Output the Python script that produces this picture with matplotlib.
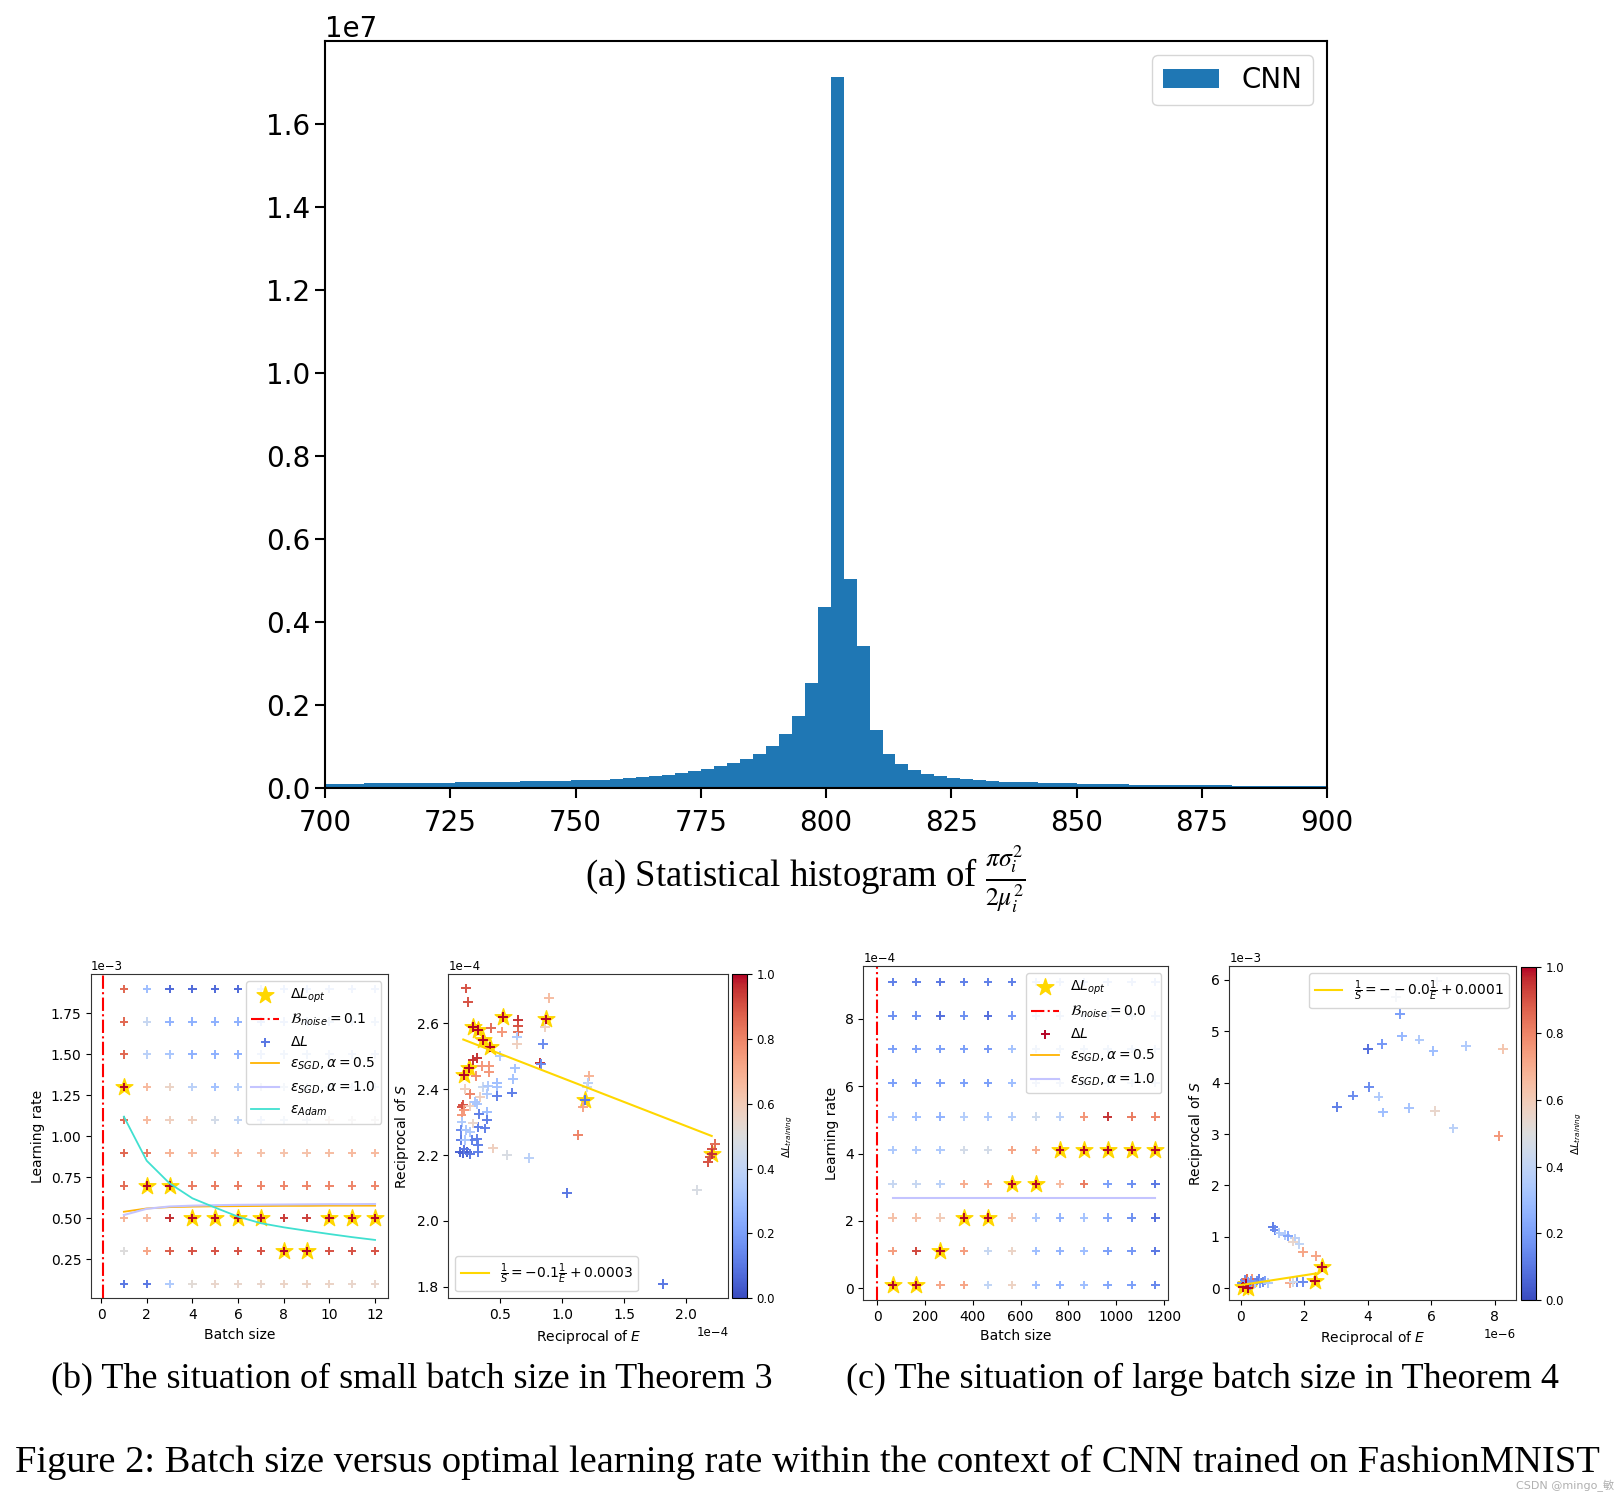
import matplotlib
matplotlib.use('Agg')
import matplotlib.pyplot as plt
import numpy as np

W, H = 1618, 1492

# (a) histogram of pi*sigma^2/(2*mu^2) -- bar heights in units of 1e7
hist_start = 700.04
hist_binw = 2.587
hist_counts = [0.0110, 0.0113, 0.0116, 0.0119, 0.0122, 0.0125, 0.0129, 0.0133, 0.0137, 0.0141,
               0.0145, 0.0150, 0.0155, 0.0160, 0.0165, 0.0170, 0.0176, 0.0182, 0.0189, 0.0196,
               0.0204, 0.0214, 0.0228, 0.0247, 0.0270, 0.0300,
               0.033, 0.037, 0.0417, 0.0465, 0.053, 0.061, 0.070, 0.083, 0.102, 0.130,
               0.174, 0.253, 0.437,
               1.714, 0.505, 0.343, 0.140, 0.084, 0.0585, 0.0445, 0.035, 0.030, 0.0255,
               0.0225, 0.020, 0.018, 0.0165, 0.0153, 0.0143, 0.0134, 0.0126, 0.0119, 0.0113,
               0.0107, 0.0102, 0.0097, 0.0093, 0.0089, 0.0085, 0.0082, 0.0079, 0.0076, 0.0073,
               0.0071, 0.0069, 0.0067, 0.0065, 0.0063, 0.0061, 0.0060, 0.0058, 0.0057]

# (b) small batch size, learning rate in 1e-3
b_batch = [1, 2, 3, 4, 5, 6, 7, 8, 9, 10, 11, 12]
b_lr = [0.1, 0.3, 0.5, 0.7, 0.9, 1.1, 1.3, 1.5, 1.7, 1.9]
b_dl = [  # rows: lr from bottom, cols: batch size
    [0.10, 0.10, 0.35, 0.52, 0.55, 0.55, 0.55, 0.56, 0.56, 0.56, 0.55, 0.55],
    [0.50, 0.72, 0.88, 0.90, 0.90, 0.90, 0.90, 1.00, 1.00, 0.90, 0.90, 0.90],
    [0.68, 0.66, 0.96, 1.00, 1.00, 1.00, 1.00, 0.94, 0.93, 1.00, 1.00, 1.00],
    [0.85, 1.00, 1.00, 0.82, 0.82, 0.82, 0.80, 0.80, 0.80, 0.80, 0.80, 0.80],
    [0.86, 0.82, 0.68, 0.66, 0.66, 0.66, 0.63, 0.63, 0.63, 0.65, 0.66, 0.66],
    [0.86, 0.66, 0.58, 0.58, 0.46, 0.40, 0.42, 0.44, 0.46, 0.55, 0.50, 0.50],
    [1.00, 0.66, 0.56, 0.38, 0.31, 0.36, 0.45, 0.44, 0.44, 0.44, 0.44, 0.44],
    [0.86, 0.38, 0.33, 0.25, 0.25, 0.25, 0.38, 0.40, 0.40, 0.42, 0.42, 0.42],
    [0.86, 0.42, 0.26, 0.25, 0.25, 0.25, 0.35, 0.38, 0.38, 0.40, 0.40, 0.40],
    [0.86, 0.30, 0.07, 0.07, 0.07, 0.07, 0.35, 0.36, 0.36, 0.38, 0.38, 0.38],
]
b_opt_batch = [1, 2, 3, 4, 5, 6, 7, 10, 11, 12, 8, 9]
b_opt_lr = [1.3, 0.7, 0.7, 0.5, 0.5, 0.5, 0.5, 0.5, 0.5, 0.5, 0.3, 0.3]
b_noise = 0.1
b_sgd05 = [0.540, 0.560, 0.568, 0.571, 0.573, 0.574, 0.575, 0.576, 0.576, 0.577, 0.577, 0.577]
b_sgd10 = [0.520, 0.558, 0.572, 0.577, 0.580, 0.582, 0.583, 0.584, 0.585, 0.586, 0.586, 0.587]
b_adam = [1.120, 0.851, 0.713, 0.622, 0.565, 0.510, 0.470, 0.445, 0.424, 0.404, 0.385, 0.368]

# (b) right: 1/E in 1e-4, 1/S in 1e-4
br_x = [0.226, 0.245, 0.898, 0.648, 0.648, 0.642, 0.430, 0.513, 0.634, 0.634,
        0.863, 0.849, 0.823, 0.828, 0.500, 0.285, 0.317, 0.352, 0.411, 0.411,
        0.306, 0.621, 0.608, 0.600, 0.478, 0.478, 0.478, 0.366, 0.406, 0.392,
        0.339, 0.258, 0.218, 0.190, 0.204, 0.210, 0.190, 0.258, 0.298, 0.317,
        0.333, 0.392, 0.392, 0.325, 0.379, 0.190, 0.185, 0.226, 0.258, 0.285,
        0.312, 0.272, 0.185, 0.218, 0.325, 0.177, 0.204, 0.231, 0.258, 0.210,
        0.325, 0.446, 0.554, 0.737, 1.043, 1.132, 1.172, 1.220, 1.212, 1.199,
        2.091, 1.812, 2.234, 2.207, 2.180, 2.194, 0.527, 0.871, 0.285, 0.325,
        0.366, 0.419, 0.210, 0.250, 1.186, 2.207]
br_y = [2.706, 2.666, 2.676, 2.610, 2.592, 2.575, 2.587, 2.575, 2.560, 2.536,
        2.590, 2.537, 2.480, 2.476, 2.500, 2.490, 2.494, 2.471, 2.470, 2.453,
        2.440, 2.463, 2.430, 2.390, 2.420, 2.407, 2.380, 2.408, 2.410, 2.385,
        2.377, 2.385, 2.400, 2.347, 2.352, 2.337, 2.321, 2.349, 2.362, 2.355,
        2.326, 2.331, 2.308, 2.286, 2.281, 2.301, 2.276, 2.276, 2.271, 2.296,
        2.250, 2.247, 2.247, 2.245, 2.230, 2.210, 2.205, 2.210, 2.203, 2.217,
        2.210, 2.220, 2.200, 2.192, 2.085, 2.260, 2.347, 2.440, 2.418, 2.408,
        2.093, 1.808, 2.235, 2.217, 2.180, 2.195, 2.620, 2.612, 2.590, 2.580,
        2.549, 2.529, 2.443, 2.463, 2.367, 2.203]
br_c = [0.90, 0.90, 0.65, 0.95, 0.90, 0.85, 0.85, 0.75, 0.35, 0.58,
        0.58, 0.15, 0.95, 0.15, 0.35, 0.95, 0.95, 0.75, 0.75, 0.75,
        0.78, 0.32, 0.32, 0.12, 0.30, 0.32, 0.12, 0.42, 0.35, 0.35,
        0.58, 0.80, 0.58, 0.90, 0.90, 0.75, 0.75, 0.58, 0.33, 0.33,
        0.12, 0.30, 0.12, 0.12, 0.12, 0.35, 0.15, 0.33, 0.35, 0.55,
        0.12, 0.12, 0.12, 0.33, 0.12, 0.05, 0.05, 0.05, 0.10, 0.10,
        0.12, 0.58, 0.48, 0.38, 0.10, 0.80, 0.72, 0.68, 0.38, 0.45,
        0.48, 0.10, 0.85, 0.90, 0.90, 0.90, 1.00, 1.00, 1.00, 1.00,
        1.00, 1.00, 1.00, 1.00, 0.10, 0.95]
br_opt_x = [0.527, 0.871, 0.285, 0.325, 0.366, 0.419, 0.210, 0.250, 1.186, 2.207]
br_opt_y = [2.620, 2.612, 2.590, 2.580, 2.549, 2.529, 2.443, 2.463, 2.367, 2.203]
br_fit_x = [0.204, 2.207]
br_fit_y = [2.551, 2.258]

# (c) large batch size, learning rate in 1e-4
c_batch = [64, 164, 264, 364, 464, 564, 664, 764, 864, 964, 1064, 1164]
c_lr = [0.1, 1.1, 2.1, 3.1, 4.1, 5.1, 6.1, 7.1, 8.1, 9.1]
c_dl = [
    [1.00, 1.00, 0.72, 0.72, 0.40, 0.57, 0.30, 0.25, 0.30, 0.22, 0.20, 0.14],
    [0.74, 0.92, 1.00, 0.74, 0.42, 0.56, 0.30, 0.26, 0.30, 0.20, 0.18, 0.10],
    [0.64, 0.64, 0.60, 1.00, 1.00, 0.64, 0.33, 0.26, 0.32, 0.22, 0.16, 0.08],
    [0.42, 0.42, 0.38, 0.70, 0.70, 1.00, 1.00, 0.66, 0.82, 0.20, 0.16, 0.10],
    [0.34, 0.34, 0.34, 0.46, 0.46, 0.72, 0.70, 1.00, 1.00, 1.00, 1.00, 1.00],
    [0.32, 0.30, 0.26, 0.36, 0.34, 0.36, 0.44, 0.38, 0.76, 0.95, 0.82, 0.80],
    [0.20, 0.20, 0.20, 0.20, 0.20, 0.30, 0.42, 0.42, 0.42, 0.44, 0.44, 0.44],
    [0.20, 0.20, 0.20, 0.20, 0.18, 0.32, 0.40, 0.40, 0.40, 0.40, 0.40, 0.40],
    [0.16, 0.16, 0.08, 0.16, 0.08, 0.18, 0.40, 0.40, 0.40, 0.40, 0.40, 0.40],
    [0.12, 0.12, 0.10, 0.12, 0.12, 0.12, 0.38, 0.38, 0.38, 0.38, 0.38, 0.38],
]
c_opt_batch = [64, 164, 264, 364, 464, 564, 664, 764, 864, 964, 1064, 1164]
c_opt_lr = [0.1, 0.1, 1.1, 2.1, 2.1, 3.1, 3.1, 4.1, 4.1, 4.1, 4.1, 4.1]
c_noise = 0.0
c_sgd05 = []  # not visible in the panel
c_sgd10 = [2.69] * 12

# (c) right: 1/E in 1e-6, 1/S in 1e-3
cr_x = [6.17, 4.89, 5.02, 5.07, 5.63, 6.07, 7.10, 8.27, 4.46, 4.02,
        4.05, 3.53, 4.34, 4.49, 3.04, 5.29, 6.12, 6.70, 8.12, 1.01,
        1.08, 1.22, 1.40, 1.50, 1.71, 1.64, 1.85, 1.95, 2.36, 1.97,
        1.76, 1.55, 1.66, 0.03, 0.14, 0.19, 0.29, 0.35, 0.40, 0.45,
        0.50, 0.56, 0.61, 0.71, 0.77, 0.87, 0.22, 0.33, 2.55, 2.34,
        0.08, 0.24, 0.16]
cr_y = [5.97, 5.67, 5.34, 4.90, 4.84, 4.62, 4.71, 4.66, 4.75, 4.66,
        3.91, 3.75, 3.73, 3.42, 3.52, 3.51, 3.45, 3.11, 2.96, 1.19,
        1.13, 1.08, 1.04, 1.02, 0.97, 0.91, 0.86, 0.71, 0.63, 0.12,
        0.12, 0.10, 0.13, 0.10, 0.16, 0.175, 0.06, 0.19, 0.10, 0.11,
        0.15, 0.175, 0.10, 0.13, 0.15, 0.11, 0.12, 0.14, 0.41, 0.15,
        0.03, 0.00, 0.08]
cr_c = [0.45, 0.45, 0.20, 0.28, 0.35, 0.30, 0.35, 0.62, 0.18, 0.08,
        0.15, 0.15, 0.35, 0.30, 0.12, 0.32, 0.55, 0.38, 0.75, 0.12,
        0.15, 0.35, 0.35, 0.22, 0.38, 0.55, 0.40, 0.72, 0.72, 0.15,
        0.15, 0.70, 0.45, 0.15, 0.15, 0.85, 0.15, 0.75, 0.85, 0.35,
        0.15, 0.12, 0.20, 0.15, 0.20, 0.35, 0.20, 0.18, 1.00, 1.00,
        1.00, 1.00, 1.00]
cr_opt_x = [2.55, 2.34, 0.08, 0.24, 0.16]
cr_opt_y = [0.41, 0.15, 0.03, 0.00, 0.08]
cr_fit_x = [0.03, 2.39]
cr_fit_y = [0.065, 0.29]

cbar_ticks = [0.0, 0.2, 0.4, 0.6, 0.8, 1.0]


def rect(x0, y0, x1, y1):
    return [x0 / W, 1 - y1 / H, (x1 - x0) / W, (y1 - y0) / H]


def style_small(ax):
    ax.tick_params(labelsize=10)
    for s in ax.spines.values():
        s.set_color('#333333')
    ax.yaxis.get_offset_text().set_fontsize(8.5)
    ax.xaxis.get_offset_text().set_fontsize(8.5)


fig = plt.figure(figsize=(W / 100, H / 100), dpi=100)

# ---------------- (a)
ax = fig.add_axes(rect(325, 41.3, 1327, 788.4))
edges = hist_start + hist_binw * np.arange(len(hist_counts) + 1)
ax.hist(edges[:-1], bins=edges, weights=np.array(hist_counts) * 1e7, color='#1f77b4', label='CNN')
ax.set_xlim(700, 900)
ax.set_xticks([700, 725, 750, 775, 800, 825, 850, 875, 900])
ax.set_yticks(np.array([0.0, 0.2, 0.4, 0.6, 0.8, 1.0, 1.2, 1.4, 1.6]) * 1e7)
ax.tick_params(labelsize=20, length=7, width=1.5)
ax.tick_params(axis='x', pad=8)
ax.yaxis.get_offset_text().set_fontsize(20)
for s in ax.spines.values():
    s.set_linewidth(1.5)
ax.legend(loc='upper right', fontsize=20)

# ---------------- (b) left
bx, by = np.meshgrid(b_batch, np.array(b_lr) * 1e-3)
ax = fig.add_axes(rect(91, 974, 388.3, 1298.3))
ax.scatter(b_opt_batch, np.array(b_opt_lr) * 1e-3, marker='*', s=160, color='gold',
           label=r'$\Delta L_{opt}$')
ax.axvline(b_noise, color='red', linestyle='-.', linewidth=1.5,
           label=r'$\mathcal{B}_{noise}=%.1f$' % b_noise)
ax.scatter(bx.ravel(), by.ravel(), c=np.array(b_dl).ravel(), cmap='coolwarm', vmin=0, vmax=1,
           marker='+', s=36, linewidths=1.4, label=r'$\Delta L$')
ax.plot(b_batch, np.array(b_sgd05) * 1e-3, color='#FFB300', lw=1.3, label=r'$\varepsilon_{SGD}, \alpha=0.5$')
ax.plot(b_batch, np.array(b_sgd10) * 1e-3, color='#C4C4FF', lw=1.5, label=r'$\varepsilon_{SGD}, \alpha=1.0$')
ax.plot(b_batch, np.array(b_adam) * 1e-3, color='#40E0D0', lw=1.3, label=r'$\varepsilon_{Adam}$')
ax.set_xlim(-0.44, 12.58)
ax.set_ylim(0.012e-3, 1.99e-3)
ax.set_xticks([0, 2, 4, 6, 8, 10, 12])
ax.set_yticks(np.array([0.25, 0.5, 0.75, 1.0, 1.25, 1.5, 1.75]) * 1e-3)
ax.ticklabel_format(axis='y', style='sci', scilimits=(0, 0))
ax.set_xlabel('Batch size', fontsize=10)
ax.set_ylabel('Learning rate', fontsize=10)
ax.legend(loc='upper right', fontsize=10)
style_small(ax)

# ---------------- (b) right
ax = fig.add_axes(rect(448.3, 974, 728.3, 1298.3))
ax.scatter(np.array(br_opt_x) * 1e-4, np.array(br_opt_y) * 1e-4, marker='*', s=160, color='gold')
sc = ax.scatter(np.array(br_x) * 1e-4, np.array(br_y) * 1e-4, c=br_c, cmap='coolwarm', vmin=0, vmax=1,
                marker='+', s=50, linewidths=1.4)
ax.plot(np.array(br_fit_x) * 1e-4, np.array(br_fit_y) * 1e-4, color='gold', lw=1.5,
        label=r'$\frac{1}{S}=-0.1\frac{1}{E}+0.0003$')
ax.set_xlim(0.083e-4, 2.341e-4)
ax.set_ylim(1.765e-4, 2.75e-4)
ax.set_xticks(np.array([0.5, 1.0, 1.5, 2.0]) * 1e-4)
ax.set_yticks(np.array([1.8, 2.0, 2.2, 2.4, 2.6]) * 1e-4)
ax.ticklabel_format(axis='both', style='sci', scilimits=(0, 0))
ax.set_xlabel(r'Reciprocal of $E$', fontsize=10)
ax.set_ylabel(r'Reciprocal of $S$', fontsize=10)
ax.legend(loc='lower left', fontsize=10)
style_small(ax)
cax = fig.add_axes(rect(732.3, 974, 746.7, 1298.3))
cb = fig.colorbar(sc, cax=cax, ticks=cbar_ticks)
cb.ax.tick_params(labelsize=8.5)
cb.set_label(r'$\Delta L_{training}$', fontsize=7.5)

# ---------------- (c) left
cx, cy = np.meshgrid(c_batch, np.array(c_lr) * 1e-4)
ax = fig.add_axes(rect(863.3, 966, 1168.3, 1300))
ax.scatter(c_opt_batch, np.array(c_opt_lr) * 1e-4, marker='*', s=160, color='gold',
           label=r'$\Delta L_{opt}$')
ax.axvline(c_noise, color='red', linestyle='-.', linewidth=1.5,
           label=r'$\mathcal{B}_{noise}=%.1f$' % c_noise)
ax.scatter(cx.ravel(), cy.ravel(), c=np.array(c_dl).ravel(), cmap='coolwarm', vmin=0, vmax=1,
           marker='+', s=36, linewidths=1.4, label=r'$\Delta L$')
ax.plot(c_batch[:len(c_sgd05)], np.array(c_sgd05) * 1e-4, color='#FFB300', lw=1.3,
        label=r'$\varepsilon_{SGD}, \alpha=0.5$')
ax.plot(c_batch, np.array(c_sgd10) * 1e-4, color='#C4C4FF', lw=1.5, label=r'$\varepsilon_{SGD}, \alpha=1.0$')
ax.set_xlim(-58.6, 1218)
ax.set_ylim(-0.347e-4, 9.574e-4)
ax.set_xticks([0, 200, 400, 600, 800, 1000, 1200])
ax.set_yticks(np.array([0, 2, 4, 6, 8]) * 1e-4)
ax.ticklabel_format(axis='y', style='sci', scilimits=(0, 0))
ax.set_xlabel('Batch size', fontsize=10)
ax.set_ylabel('Learning rate', fontsize=10)
ax.legend(loc='upper right', fontsize=10)
style_small(ax)

# ---------------- (c) right
ax = fig.add_axes(rect(1229.3, 966, 1516, 1300))
ax.scatter(np.array(cr_opt_x) * 1e-6, np.array(cr_opt_y) * 1e-3, marker='*', s=160, color='gold')
sc = ax.scatter(np.array(cr_x) * 1e-6, np.array(cr_y) * 1e-3, c=cr_c, cmap='coolwarm', vmin=0, vmax=1,
                marker='+', s=50, linewidths=1.4)
ax.plot(np.array(cr_fit_x) * 1e-6, np.array(cr_fit_y) * 1e-3, color='gold', lw=1.5,
        label=r'$\frac{1}{S}=--0.0\frac{1}{E}+0.0001$')
ax.set_xlim(-0.36e-6, 8.67e-6)
ax.set_ylim(-0.228e-3, 6.27e-3)
ax.set_xticks(np.array([0, 2, 4, 6, 8]) * 1e-6)
ax.set_yticks(np.array([0, 1, 2, 3, 4, 5, 6]) * 1e-3)
ax.ticklabel_format(axis='both', style='sci', scilimits=(0, 0))
ax.set_xlabel(r'Reciprocal of $E$', fontsize=10)
ax.set_ylabel(r'Reciprocal of $S$', fontsize=10)
ax.legend(loc='upper right', fontsize=10)
style_small(ax)
cax = fig.add_axes(rect(1520.7, 966.7, 1536, 1300))
cb = fig.colorbar(sc, cax=cax, ticks=cbar_ticks)
cb.ax.tick_params(labelsize=8.5)
cb.set_label(r'$\Delta L_{training}$', fontsize=7.5)

# ---------------- captions
serif = dict(family='Liberation Serif', math_fontfamily='stix')
fig.text(805 / W, 1 - 887 / H, r'(a) Statistical histogram of $\frac{\pi\sigma_i^2}{2\mu_i^2}$',
         ha='center', va='baseline', fontsize=26.5, **serif)
fig.text(412 / W, 1 - 1388 / H, '(b) The situation of small batch size in Theorem 3',
         ha='center', va='baseline', fontsize=26, **serif)
fig.text(1202 / W, 1 - 1388 / H, '(c) The situation of large batch size in Theorem 4',
         ha='center', va='baseline', fontsize=26, **serif)
fig.text(807 / W, 1 - 1472 / H,
         'Figure 2: Batch size versus optimal learning rate within the context of CNN trained on FashionMNIST',
         ha='center', va='baseline', fontsize=27.7, **serif)
fig.text(1614 / W, 1 - 1489 / H, 'CSDN @mingo_敏', ha='right', va='baseline', fontsize=8,
         color='#b0b0b0', family=['DejaVu Sans', 'Noto Sans CJK SC'])

fig.savefig('out.png', dpi=100)
